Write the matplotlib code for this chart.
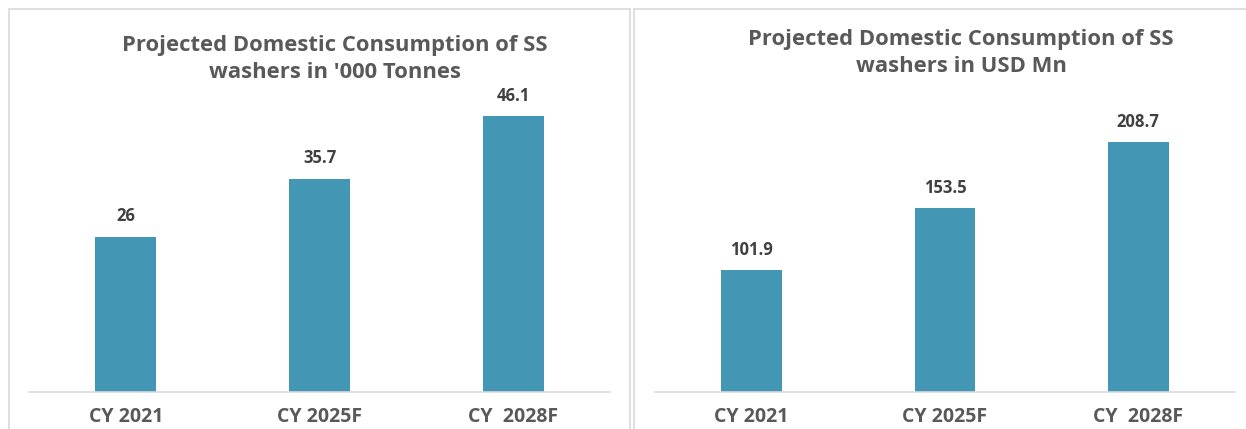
"""Projected domestic consumption of SS washers - volume and value side by side."""

import matplotlib
matplotlib.use("Agg")
import matplotlib.pyplot as plt
from matplotlib.patches import Rectangle

YEARS = ["CY 2021", "CY 2025F", "CY  2028F"]
TONNES = [26, 35.7, 46.1]
USD_MN = [101.9, 153.5, 208.7]
TONNE_LABELS = ["26", "35.7", "46.1"]
USD_LABELS = ["101.9", "153.5", "208.7"]
TITLES = ["Projected Domestic Consumption of SS\nwashers in '000 Tonnes",
          "Projected Domestic Consumption of SS\nwashers in USD Mn"]

W, H = 1246, 429
BAR = "#4397b5"
GRID = "#d9d9d9"
TXT = "#595959"
VAL = "#404040"
FONT = ["Open Sans", "DejaVu Sans"]


def px(x0, y0, x1, y1):
    """Pixel box (top-left origin) -> figure fraction [l, b, w, h]."""
    return [x0 / W, 1 - y1 / H, (x1 - x0) / W, (y1 - y0) / H]


def panel(fig, box, border, values, labels, ymax, title, title_xy):
    bx0, by0, bx1 = border
    fig.add_artist(Rectangle((bx0 / W, -0.1), (bx1 - bx0) / W,
                             1.1 - by0 / H, transform=fig.transFigure,
                             fill=False, edgecolor=GRID, lw=1.2))
    ax = fig.add_axes(px(*box))
    x = range(len(YEARS))
    bars = ax.bar(x, values, width=0.315, color=BAR, zorder=2)
    for b, lab in zip(bars, labels):
        ax.annotate(lab, (b.get_x() + b.get_width() / 2, b.get_height()),
                    xytext=(0, 8), textcoords="offset points",
                    ha="center", va="bottom", fontsize=12,
                    fontweight="bold", color=VAL, family=FONT)
    ax.set_xlim(-0.5, len(YEARS) - 0.5)
    ax.set_ylim(0, ymax)
    ax.set_xticks(list(x))
    ax.set_xticklabels(YEARS, fontsize=14, fontweight="bold", color=TXT,
                       family=FONT)
    ax.tick_params(axis="x", length=0, pad=11)
    ax.set_yticks([])
    for s in ["top", "left", "right"]:
        ax.spines[s].set_visible(False)
    ax.spines["bottom"].set_color(GRID)
    ax.spines["bottom"].set_linewidth(1.2)
    ax.patch.set_alpha(0)
    fig.text(title_xy[0] / W, 1 - title_xy[1] / H, title, ha="center",
             va="center", fontsize=15.8, fontweight="bold", color=TXT,
             family=FONT, linespacing=1.35)


def main() -> None:
    fig = plt.figure(figsize=(W / 100, H / 100), dpi=100)
    fig.patch.set_facecolor("white")
    panel(fig, (29, 100, 610, 392), (9, 9, 630), TONNES, TONNE_LABELS,
          292 / 5.98, TITLES[0], (335, 59))
    panel(fig, (655, 100, 1235, 392), (634, 9, 1300), USD_MN, USD_LABELS,
          292 / 1.196, TITLES[1], (961, 53))
    fig.savefig("out.png", dpi=100)
    plt.close(fig)


if __name__ == "__main__":
    main()
